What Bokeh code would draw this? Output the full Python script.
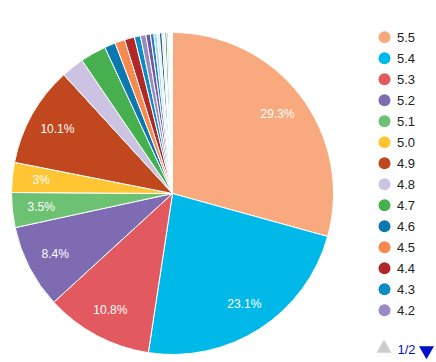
import numpy as np
from bokeh.plotting import figure
from bokeh.models import ColumnDataSource, Range1d
from bokeh.core.properties import value
from bokeh.embed import file_html
from bokeh.resources import INLINE

# ---- data ----
categories = ["5.5", "5.4", "5.3", "5.2", "5.1", "5.0", "4.9", "4.8", "4.7", "4.6",
              "4.5", "4.4", "4.3", "4.2", "4.1", "4.0", "3.9", "3.8", "3.7", "3.6",
              "3.5", "3.4", "3.3", "3.2", "3.1", "3.0", "2.9", "2.8"]
shares = [29.3, 23.1, 10.8, 8.4, 3.5, 3.0, 10.1, 2.3, 2.6, 1.1,
          1.0, 1.0, 0.6, 0.55, 0.45, 0.35, 0.3, 0.25, 0.25, 0.15,
          0.15, 0.2, 0.15, 0.1, 0.1, 0.1, 0.05, 0.05]
colors = ["#F8A97D", "#00B9E8", "#E25A5F", "#7E6BB2", "#6DC173", "#FFC532", "#C0471E",
          "#CBC3E1", "#46B04F", "#0B78AF", "#F7894F", "#B02828", "#0B8DC4", "#9A89C2",
          "#6A599E", "#2A7DC0", "#9FD6EE", "#D9EEF5", "#155B8D", "#F4A6A6", "#E0DAF0",
          "#3E9E46", "#8CCFE8", "#B8E0B0", "#F2C9B0", "#C9E6F2", "#D8D0EA", "#F6D5C2"]
legend_page_count = 14
pager_text = "1/2"

W, H = 436, 362
cx, cy, R = 172, H - 193, 161

vals = np.array(shares, dtype=float)
frac = vals / vals.sum()
cum = np.concatenate([[0], np.cumsum(frac)])
theta1 = cum[:-1] * 2 * np.pi
theta2 = cum[1:] * 2 * np.pi
start = np.pi / 2 - theta1
end = np.pi / 2 - theta2
mid = (theta1 + theta2) / 2

def fmt(f):
    v = round(f * 100, 1)
    return (f"{v:g}%") if f >= 0.0295 else ""

labels = [fmt(f) for f in frac]
lr = 0.82 * R
src = ColumnDataSource(dict(
    cat=categories, start=start, end=end, color=colors, label=labels,
    lx=cx + lr * np.sin(mid), ly=cy + lr * np.cos(mid),
))

p = figure(width=W, height=H, output_backend="svg", toolbar_location=None,
           x_range=Range1d(0, W), y_range=Range1d(0, H), min_border=0)
p.axis.visible = False
p.grid.visible = False
p.outline_line_color = None
p.background_fill_color = "white"

p.wedge(x=cx, y=cy, radius=R, start_angle="start", end_angle="end", direction="clock",
        fill_color="color", line_color="white", line_width=1, source=src)
p.text(x="lx", y="ly", text="label", source=src, text_color="white",
       text_font=value("Liberation Sans"), text_font_size="12px",
       text_align="center", text_baseline="middle")

# legend (page 1)
n = legend_page_count
leg_y = H - (36.7 + np.arange(n) * 21.0)
lsrc = ColumnDataSource(dict(y=leg_y, cat=categories[:n], color=colors[:n]))
p.scatter(x=384, y="y", size=12, marker="circle", fill_color="color", line_color=None, source=lsrc)
p.text(x=396.5, y="y", text="cat", source=lsrc, text_color="#222222",
       text_font=value("Liberation Sans"), text_font_size="13px",
       text_align="left", text_baseline="middle")

# pager
py = H - 349
p.scatter(x=[383.5], y=[py + 1], marker="triangle", size=15, fill_color="#CCCCCC", line_color=None)
p.text(x=[397], y=[py], text=[pager_text], text_color="#0011CC",
       text_font=value("Liberation Sans"), text_font_size="13px",
       text_align="left", text_baseline="middle")
p.scatter(x=[426], y=[py - 1], marker="inverted_triangle", size=15, fill_color="#0011CC", line_color=None)

open("out.html", "w").write(file_html(p, INLINE))
